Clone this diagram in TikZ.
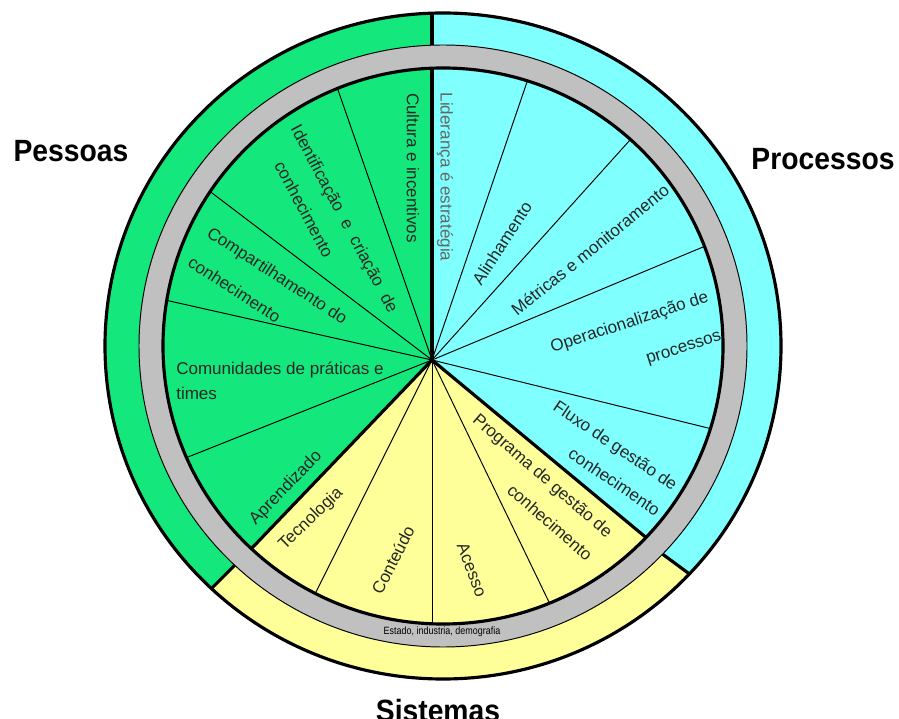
\documentclass[tikz,border=0pt]{standalone}
\usepackage{fontspec}
\setmainfont{Liberation Sans}
\usetikzlibrary{calc}
\definecolor{pessoasgreen}{RGB}{20,232,124}
\definecolor{processoscyan}{RGB}{128,255,255}
\definecolor{sistemasyellow}{RGB}{255,255,153}
\definecolor{bandgray}{RGB}{192,192,192}
\begin{document}
\begin{tikzpicture}[x=0.02cm,y=-0.02cm,
	rim/.style={line width=1.8pt},
	divider/.style={line width=0.55pt},
	slice/.style={font=\fontsize{9.7}{11}\selectfont,text=black!85,inner sep=0pt},
	title/.style={font=\fontsize{17.5}{19}\selectfont\bfseries,xscale=0.92,inner sep=0pt,anchor=base}]
	\useasboundingbox (0,0) rectangle (899,719);
	\coordinate (o) at (443,346);
	\coordinate (apex) at (432,360);
	
	\fill[processoscyan] (o) ellipse [x radius=338, y radius=333];
	\begin{scope}
		\clip (o) ellipse [x radius=338, y radius=333];
		\fill[pessoasgreen] (432,-20) -- (60,-20) -- (60,740) -- (300,500) -- (432,500) -- cycle;
		\fill[sistemasyellow] (300,500) -- (60,740) -- (60,760) -- (840,760) -- (840,685) -- (600,508) -- cycle;
		\draw[rim] (432,-20) -- (432,100);
		\draw[rim] (60,740) -- (300,500);
		\draw[rim] (840,685) -- (600,508);
	\end{scope}
	\fill[bandgray] (o) ellipse [x radius=304, y radius=301];
	\draw[divider] (o) ellipse [x radius=304, y radius=301];
	
	\begin{scope}
		\clip (o) ellipse [x radius=280, y radius=278];
		\fill[pessoasgreen] (100,0) rectangle (800,719);
		\fill[processoscyan] (apex) -- (432,0) -- (900,0) -- (900,710) -- (854,710) -- cycle;
		\fill[sistemasyellow] (apex) -- (854,710) -- (854,760) -- (72,760) -- (72,736) -- cycle;
		\draw[divider] (apex) -- ($(apex)!1.2!(338,90)$);
		\draw[divider] (apex) -- ($(apex)!1.2!(212,193)$);
		\draw[divider] (apex) -- ($(apex)!1.2!(165,300)$);
		\draw[divider] (apex) -- ($(apex)!1.2!(188,457)$);
		\draw[divider] (apex) -- ($(apex)!1.2!(527,82)$);
		\draw[divider] (apex) -- ($(apex)!1.2!(630,140)$);
		\draw[divider] (apex) -- ($(apex)!1.2!(703,247)$);
		\draw[divider] (apex) -- ($(apex)!1.2!(708,428)$);
		\draw[divider] (apex) -- ($(apex)!1.2!(548,600)$);
		\draw[divider] (apex) -- (432,700);
		\draw[divider] (apex) -- ($(apex)!1.2!(317,590)$);
		\draw[rim] (apex) -- (432,0);
		\draw[rim] (apex) -- (72,736);
		\draw[rim] (apex) -- (854,710);
	\end{scope}
	\draw[rim] (o) ellipse [x radius=280, y radius=278];
	\draw[rim] (o) ellipse [x radius=338, y radius=333];
	
	\node[slice,rotate=-90] (cultura) at (413,168) {Cultura e incentivos};
	\node[slice,rotate=-62,align=left,font=\fontsize{9.7}{18}\selectfont] (identificacao) at (331,226) {Identificação\hspace{0.6em}e\hspace{0.6em}criação\hspace{0.6em}de\\\hspace*{14pt}conhecimento};
	\node[slice,rotate=-33,align=left,font=\fontsize{9.7}{20}\selectfont] (compartilhamento) at (268,290) {Compartilhamento do\\conhecimento};
	\node[slice,align=left,font=\fontsize{9.7}{14}\selectfont] (comunidades) at (280,381) {Comunidades de práticas e\\times};
	\node[slice,rotate=46] (aprendizado) at (286,488) {Aprendizado};
	
	\node[slice,rotate=44] (tecnologia) at (311,519) {Tecnologia};
	\node[slice,rotate=63] (conteudo) at (393,560) {Conteúdo};
	\node[slice,rotate=-69] (acesso) at (472,570) {Acesso};
	\node[slice,rotate=-41,align=right,font=\fontsize{9.7}{17.5}\selectfont] (programa) at (533,487) {Programa de gestão de\\conhecimento};
	
	\node[slice,rotate=-90,text=black!60] (lideranca) at (445,177) {Liderança é estratégia};
	\node[slice,rotate=57] (alinhamento) at (502,243) {Alinhamento};
	\node[slice,rotate=39] (metricas) at (590,250) {Métricas e monitoramento};
	\node[slice,rotate=18,align=right,font=\fontsize{9.7}{23}\selectfont] (operacionalizacao) at (636,342) {Operacionalização de\\processos};
	\node[slice,rotate=-34,align=right,font=\fontsize{9.7}{17.5}\selectfont] (fluxo) at (607,458) {Fluxo de gestão de\\conhecimento};
	
	\node[font=\fontsize{6}{7}\selectfont,xscale=0.85,inner sep=0pt] (estado) at (442,632) {Estado, industria, demografia};
	
	\node[title] (pessoas) at (71,162) {Pessoas};
	\node[title] (processos) at (823,170) {Processos};
	\node[title] (sistemas) at (438,721) {Sistemas};
\end{tikzpicture}
\end{document}
